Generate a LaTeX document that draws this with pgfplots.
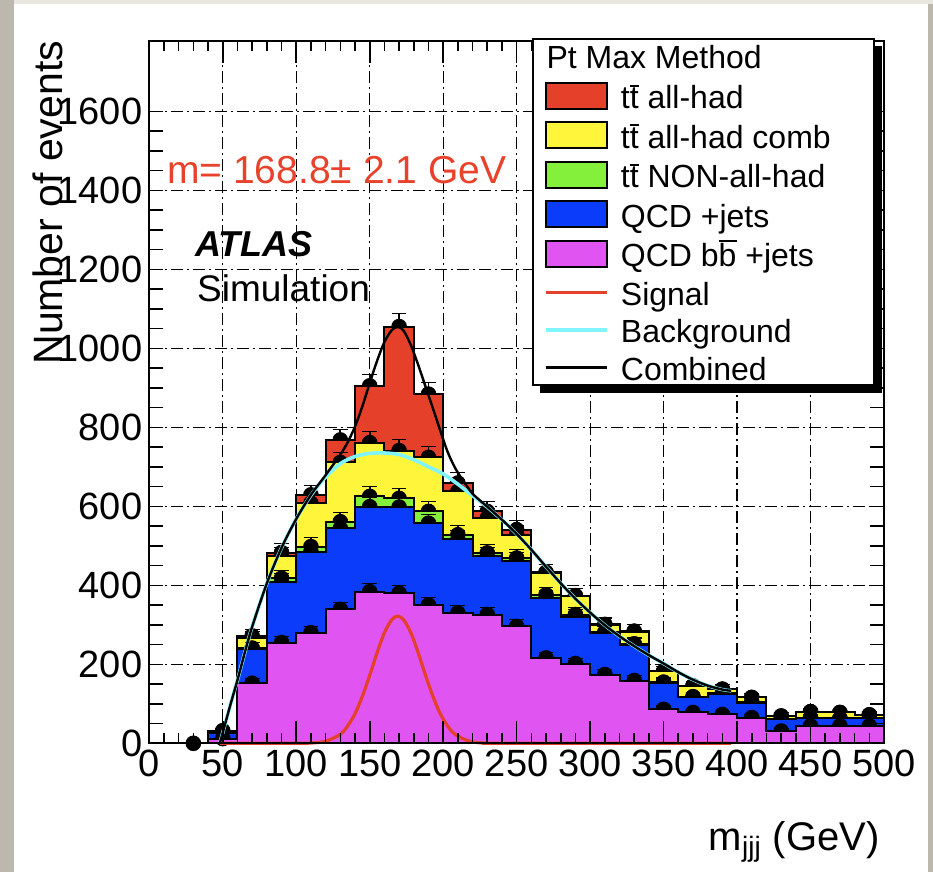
\documentclass[border=0pt]{standalone}
\usepackage{fontspec}
\setmainfont{Liberation Sans}
\usepackage{pgfplots}
\pgfplotsset{compat=1.18}
\usepackage{pgfplotstable}

\definecolor{cRed}{HTML}{E5402A}
\definecolor{cYel}{HTML}{FFF63C}
\definecolor{cGrn}{HTML}{85F03C}
\definecolor{cBlu}{HTML}{0A3CFA}
\definecolor{cMag}{HTML}{E055F2}
\definecolor{cCyan}{HTML}{80F5FF}
\definecolor{cTxt}{HTML}{E8412C}
\definecolor{bgGray}{HTML}{BCB8AE}
\definecolor{bgTop}{HTML}{E8E6DF}

\newcommand{\ovl}[1]{\setbox0\hbox{#1}\hbox{\rlap{\raisebox{\dimexpr\ht0+0.04em\relax}{\rule{\wd0}{0.065em}}}\box0}}
\newcommand{\legfont}{\fontsize{16}{19}\selectfont}

\pgfplotsset{layers/histo/.define layer set={axis background,axis grid,main,axis ticks,axis lines,axis tick labels,axis descriptions,axis foreground}{/pgfplots/layers/standard}}

% cumulative stack tops (left bin edges, last row closes the last bin)
% c1 = QCD bb+jets, c2 = +QCD+jets, c3 = +ttbar NON-all-had, c4 = +ttbar all-had comb, c5 = +ttbar all-had
\pgfplotstableread{
x   c1  c2  c3  c4  c5
40  12  26  27  30  32
60  152 240 241 266 272
80  255 409 418 473 483
100 280 485 498 608 629
120 339 544 561 711 768
140 384 599 625 761 905
160 380 598 620 741 1055
180 350 557 587 724 884
200 330 516 528 638 659
220 326 473 482 570 587
240 296 461 469 528 541
260 216 368 376 431 433
280 202 320 326 372 374
300 174 279 281 300 301
320 159 250 252 283 284
340 86  153 155 182 182
360 78  117 118 145 145
380 73  126 127 137 137
400 65  103 104 116 116
420 31  61  61  69  69
440 44  65  65  80  80
460 44  63  63  78  78
480 44  63  63  72  72
500 44  63  63  72  72
}\hist

\pgfplotstableread{
x y
48 0
50 27
55 95
60 160
65 230
70 295
80 405
90 495
100 568
110 628
120 674
130 708
140 726
150 734
160 735
170 731
180 718
190 700
200 682
210 656
220 627
230 598
240 566
250 530
260 490
270 447
280 405
290 366
300 331
310 299
320 271
330 246
340 223
350 202
360 180
370 161
380 146
390 136
396 133
}\bkg

\pgfplotstableread{
x y
48 0
50 27
55 95
60 160
65 230
70 295
80 405
90 495
100 568
110 629
120 679
130 731
135 762
140 802
145 853
150 912
155 968
160 1016
165 1046
169 1054
173 1045
178 1008
183 958
188 903
193 848
198 792
203 738
208 698
213 668
220 632
230 599
240 566
250 530
260 490
270 447
280 405
290 366
300 331
310 299
320 271
330 246
340 223
350 202
360 180
370 161
380 146
390 136
396 133
}\comb

\pgfplotstableread{
x y
48 0
100 0
110 0.8
120 5
130 23
135 44
140 75
145 119
150 172
155 229
160 280
165 313
169 322
173 313
178 280
183 229
188 172
193 119
198 75
203 44
208 23
218 5
228 0.8
240 0
396 0
}\sig

\begin{document}
\begin{tikzpicture}
\begin{axis}[
  set layers=histo,
  clip=false, clip marker paths=true,
  scale only axis, width=367.35pt, height=351.15pt,
  xmin=0, xmax=500, ymin=0, ymax=1778,
  xtick={0,50,...,500}, ytick={0,200,...,1600},
  xticklabels={0,50,100,150,200,250,300,350,400,450,500},
  yticklabels={0,200,400,600,800,1000,1200,1400,1600},
  minor x tick num=4, minor y tick num=3,
  tick align=inside,
  major tick length=7pt, minor tick length=7pt,
  xtick style={/pgfplots/major tick length=11pt, /pgfplots/minor tick length=5pt},
  tick style={black, line width=0.8pt},
  axis line style={black, line width=1pt},
  grid=major,
  major grid style={black, line width=0.6pt, dash pattern=on 6pt off 2pt on 1pt off 2pt},
  ticklabel style={font=\fontsize{19}{19}\selectfont},
  ylabel={Number of events},
  ylabel style={at={(rel axis cs:-0.1188,0.5387)}, anchor=base west, inner sep=0pt, font=\fontsize{20.5}{20.5}\selectfont},
  xlabel={m\textsubscript{jjj} (GeV)},
  xlabel style={at={(rel axis cs:0.9946,-0.152)}, anchor=base east, inner sep=0pt, font=\fontsize{20}{20}\selectfont},
  legend style={at={(rel axis cs:0.5205,1.0038)}, anchor=north west,
    draw=black, line width=1pt, fill=white,
    inner xsep=5.5pt, inner ysep=2.5pt, row sep=5.75pt, column sep=6.3pt,
    font=\legfont,
    nodes={inner sep=0pt, text height=13pt, text depth=0pt},
    cells={anchor=west}},
]
% ---- page background (below the grid)
\begin{pgfonlayer}{axis background}
\fill[bgGray] (rel axis cs:-0.2032,-0.18326) rectangle (rel axis cs:1.06668,1.05838);
\fill[bgTop] (rel axis cs:-0.18415,1.05268) rectangle (rel axis cs:1.06668,1.05838);
\fill[white] (rel axis cs:-0.18415,-0.18326) rectangle (rel axis cs:1.05987,1.05268);
\end{pgfonlayer}
% legend shadow
\fill[black] (rel axis cs:0.5314,0.4988) rectangle (rel axis cs:0.99687,0.99245);

% ---- stacked histograms: marks of each level, then its fill (covers the lower half of the dots)
\addplot[forget plot, only marks, mark=*, mark size=3.7pt, black, skip coords between index={23}{24},
  error bars/.cd, y dir=both, y explicit, error bar style={line width=0.9pt, black}]
  table[x expr=\thisrow{x}+10, y=c5, y error expr={sqrt(\thisrow{c5})}] {\hist};
\addplot[forget plot, const plot, fill=cRed, draw=black, line width=1pt] table[x=x, y=c5] {\hist} \closedcycle;

\addplot[forget plot, only marks, mark=*, mark size=3.7pt, black, skip coords between index={23}{24},
  error bars/.cd, y dir=both, y explicit, error bar style={line width=0.9pt, black}]
  table[x expr=\thisrow{x}+10, y=c4, y error expr={sqrt(\thisrow{c4})}] {\hist};
\addplot[forget plot, const plot, fill=cYel, draw=black, line width=1pt] table[x=x, y=c4] {\hist} \closedcycle;

\addplot[forget plot, only marks, mark=*, mark size=3.7pt, black, skip coords between index={23}{24},
  error bars/.cd, y dir=both, y explicit, error bar style={line width=0.9pt, black}]
  table[x expr=\thisrow{x}+10, y=c3, y error expr={sqrt(\thisrow{c3})}] {\hist};
\addplot[forget plot, const plot, fill=cGrn, draw=black, line width=1pt] table[x=x, y=c3] {\hist} \closedcycle;

\addplot[forget plot, only marks, mark=*, mark size=3.7pt, black, skip coords between index={23}{24},
  error bars/.cd, y dir=both, y explicit, error bar style={line width=0.9pt, black}]
  table[x expr=\thisrow{x}+10, y=c2, y error expr={sqrt(\thisrow{c2})}] {\hist};
\addplot[forget plot, const plot, fill=cBlu, draw=black, line width=1pt] table[x=x, y=c2] {\hist} \closedcycle;

\addplot[forget plot, only marks, mark=*, mark size=3.7pt, black, skip coords between index={23}{24},
  error bars/.cd, y dir=both, y explicit, error bar style={line width=0.9pt, black}]
  table[x expr=\thisrow{x}+10, y=c1, y error expr={sqrt(\thisrow{c1})}] {\hist};
\addplot[forget plot, const plot, fill=cMag, draw=black, line width=1pt] table[x=x, y=c1] {\hist} \closedcycle;

% empty bin at 30
\addplot[forget plot, only marks, mark=*, mark size=3.7pt, black] coordinates {(30,0)};

% ---- fitted curves
\addplot[forget plot, cRed, line width=1.6pt, smooth] table[x=x, y=y] {\sig};
\addplot[forget plot, cCyan, line width=1.8pt, smooth] table[x=x, y=y] {\bkg};
\addplot[forget plot, black, line width=1.2pt, smooth] table[x=x, y=y] {\comb};

% ---- annotations
\node[anchor=base west, inner sep=0pt, text=cTxt, font=\fontsize{19.5}{20}\selectfont] at (axis cs:11.9,1418) {m= 168.8± 2.1 GeV};
\node[anchor=base west, inner sep=0pt, font=\fontsize{18}{18}\selectfont\bfseries\itshape] at (axis cs:31.1,1232) {ATLAS};
\node[anchor=base west, inner sep=0pt, font=\fontsize{18.5}{18.5}\selectfont] at (axis cs:32.3,1118) {Simulation};

% ---- legend
\addlegendimage{legend image code/.code={\node[overlay, anchor=west, inner sep=0pt, text height=, font=\legfont] at (0pt,0pt) {Pt Max Method};}}
\addlegendentry{\hspace*{121pt}}
\addlegendimage{legend image code/.code={\draw[fill=cRed, draw=black, line width=1pt] (0pt,-6.5pt) rectangle (30.5pt,6.5pt);}}
\addlegendentry{t\ovl{t} all-had}
\addlegendimage{legend image code/.code={\draw[fill=cYel, draw=black, line width=1pt] (0pt,-6.5pt) rectangle (30.5pt,6.5pt);}}
\addlegendentry{t\ovl{t} all-had comb}
\addlegendimage{legend image code/.code={\draw[fill=cGrn, draw=black, line width=1pt] (0pt,-6.5pt) rectangle (30.5pt,6.5pt);}}
\addlegendentry{t\ovl{t} NON-all-had}
\addlegendimage{legend image code/.code={\draw[fill=cBlu, draw=black, line width=1pt] (0pt,-6.5pt) rectangle (30.5pt,6.5pt);}}
\addlegendentry{QCD +jets}
\addlegendimage{legend image code/.code={\draw[fill=cMag, draw=black, line width=1pt] (0pt,-6.5pt) rectangle (30.5pt,6.5pt);}}
\addlegendentry{QCD b\ovl{b} +jets}
\addlegendimage{legend image code/.code={\draw[cRed, line width=1.6pt] (0pt,0pt) -- (30.5pt,0pt);}}
\addlegendentry{Signal}
\addlegendimage{legend image code/.code={\draw[cCyan, line width=1.8pt] (0pt,0pt) -- (30.5pt,0pt);}}
\addlegendentry{Background}
\addlegendimage{legend image code/.code={\draw[black, line width=1.6pt] (0pt,0pt) -- (30.5pt,0pt);}}
\addlegendentry{Combined}
\end{axis}
\end{tikzpicture}
\end{document}
